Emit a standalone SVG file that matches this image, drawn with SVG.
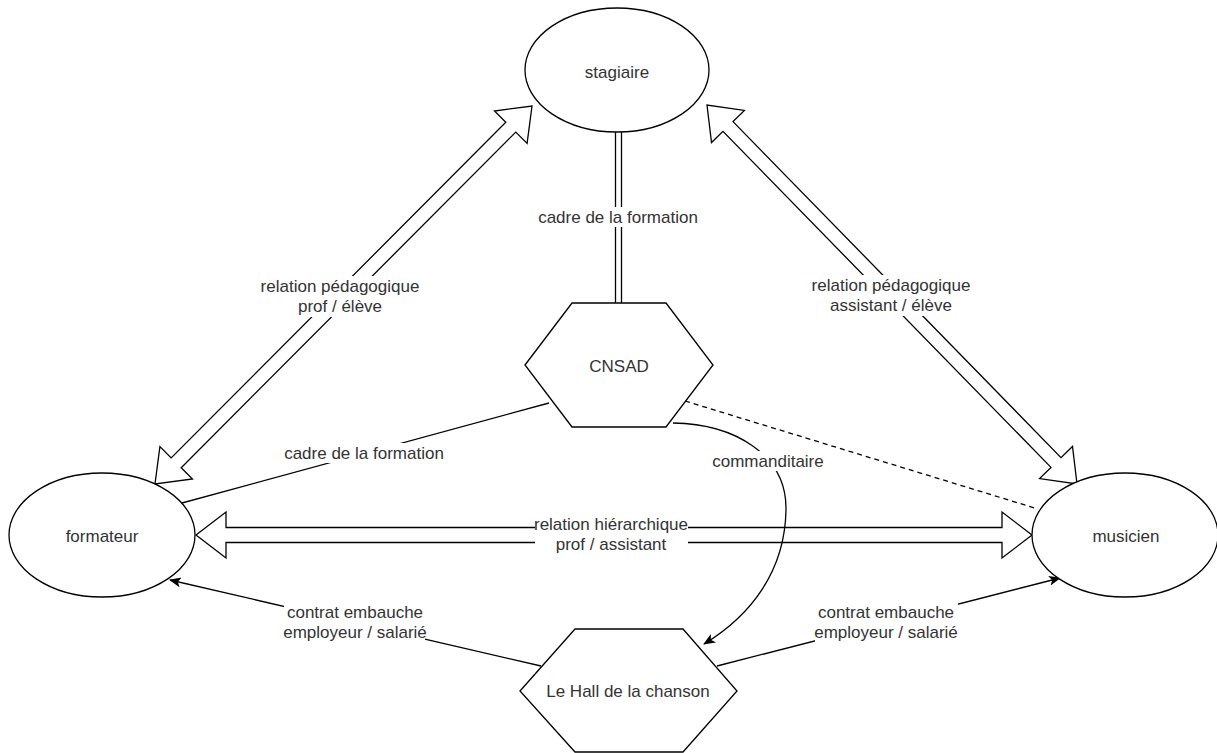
<svg xmlns="http://www.w3.org/2000/svg" width="1217" height="753" viewBox="0 0 1217 753">
<defs>
<style>
.shape{fill:#fff;stroke:#000;stroke-width:1.3}
.edge{fill:none;stroke:#000;stroke-width:1.3}
.flex{fill:#fff;stroke:#000;stroke-width:1.3;stroke-linejoin:miter}
.lbl{font-family:"Liberation Sans",Arial,sans-serif;font-size:17px;fill:#333;text-anchor:middle;dominant-baseline:central}
.bg{fill:#fff;stroke:none}
</style>
<marker id="arr" viewBox="0 0 12 10" refX="11" refY="5" markerWidth="12" markerHeight="10" markerUnits="userSpaceOnUse" orient="auto">
<path d="M0,0 L12,5 L0,10 L3,5 Z" fill="#000"/>
</marker>
</defs>
<rect width="1217" height="753" fill="#fff"/>

<g id="connectors">
<g id="e-stagiaire-cnsad">
<line class="edge" x1="615.5" y1="132" x2="615.5" y2="303"/>
<line class="edge" x1="621.5" y1="132" x2="621.5" y2="303"/>
<rect class="bg" x="538" y="207" width="161" height="20"/>
<text class="lbl" x="618" y="217">cadre de la formation</text>
</g>
<g id="e-formateur-stagiaire">
<polygon class="flex" points="532,106 527.1,143.4 515.8,132.1 181.2,467.7 192.5,479 155,484 159.9,446.6 171.2,457.9 505.8,122.3 494.5,111"/>
<rect class="bg" x="260" y="276" width="160" height="41"/>
<text class="lbl" x="340" y="286">relation pédagogique</text>
<text class="lbl" x="340" y="306">prof / élève</text>
</g>
<g id="e-stagiaire-musicien">
<polygon class="flex" points="707,105 711.5,142.5 723,131.4 1051,467.4 1039.6,478.6 1077,484 1072.5,446.5 1061,457.6 733,121.6 744.4,110.4"/>
<rect class="bg" x="811" y="275" width="161" height="41"/>
<text class="lbl" x="891" y="285">relation pédagogique</text>
<text class="lbl" x="891" y="305">assistant / élève</text>
</g>
<g id="e-formateur-musicien">
<polygon class="flex" points="196,535 226,512 226,527.5 1002,527.5 1002,512 1032,535 1002,558 1002,542.5 226,542.5 226,558"/>
<rect class="bg" x="535" y="514" width="153" height="40"/>
<text class="lbl" x="611" y="524">relation hiérarchique</text>
<text class="lbl" x="611" y="544">prof / assistant</text>
</g>
<g id="e-cnsad-formateur">
<line class="edge" x1="549" y1="403" x2="182" y2="503"/>
<rect class="bg" x="284" y="443" width="161" height="20"/>
<text class="lbl" x="364" y="453">cadre de la formation</text>
</g>
<g id="e-cnsad-musicien">
<line class="edge" x1="685" y1="401" x2="1038" y2="509" stroke-dasharray="5 4"/>
</g>
<g id="e-cnsad-hall">
<path class="edge" d="M673,423 C735,424 787,455 786,510 C785,570 752,615 704,644" marker-end="url(#arr)"/>
<rect class="bg" x="712" y="451" width="112" height="20"/>
<text class="lbl" x="768" y="461">commanditaire</text>
</g>
<g id="e-hall-formateur">
<line class="edge" x1="541" y1="666" x2="170" y2="580" marker-end="url(#arr)"/>
<rect class="bg" x="284" y="602" width="141" height="41"/>
<text class="lbl" x="355" y="612">contrat embauche</text>
<text class="lbl" x="355" y="632">employeur / salarié</text>
</g>
<g id="e-hall-musicien">
<line class="edge" x1="717" y1="666" x2="1060" y2="578" marker-end="url(#arr)"/>
<rect class="bg" x="815" y="602" width="143" height="41"/>
<text class="lbl" x="886" y="612">contrat embauche</text>
<text class="lbl" x="886" y="632">employeur / salarié</text>
</g>
</g>

<g id="n-stagiaire">
<ellipse class="shape" cx="617" cy="70" rx="92" ry="62"/>
<text class="lbl" x="617" y="72">stagiaire</text>
</g>
<g id="n-cnsad">
<polygon class="shape" points="525,365 572,303 666,303 713,365 666,427 572,427"/>
<text class="lbl" x="619" y="366">CNSAD</text>
</g>
<g id="n-formateur">
<ellipse class="shape" cx="102" cy="535" rx="93" ry="62"/>
<text class="lbl" x="102" y="536">formateur</text>
</g>
<g id="n-musicien">
<ellipse class="shape" cx="1125" cy="535" rx="93" ry="62"/>
<text class="lbl" x="1126" y="536">musicien</text>
</g>
<g id="n-hall">
<polygon class="shape" points="520,691 575,629 683,629 737,691 683,752 575,752"/>
<text class="lbl" x="628" y="691">Le Hall de la chanson</text>
</g>
</svg>
